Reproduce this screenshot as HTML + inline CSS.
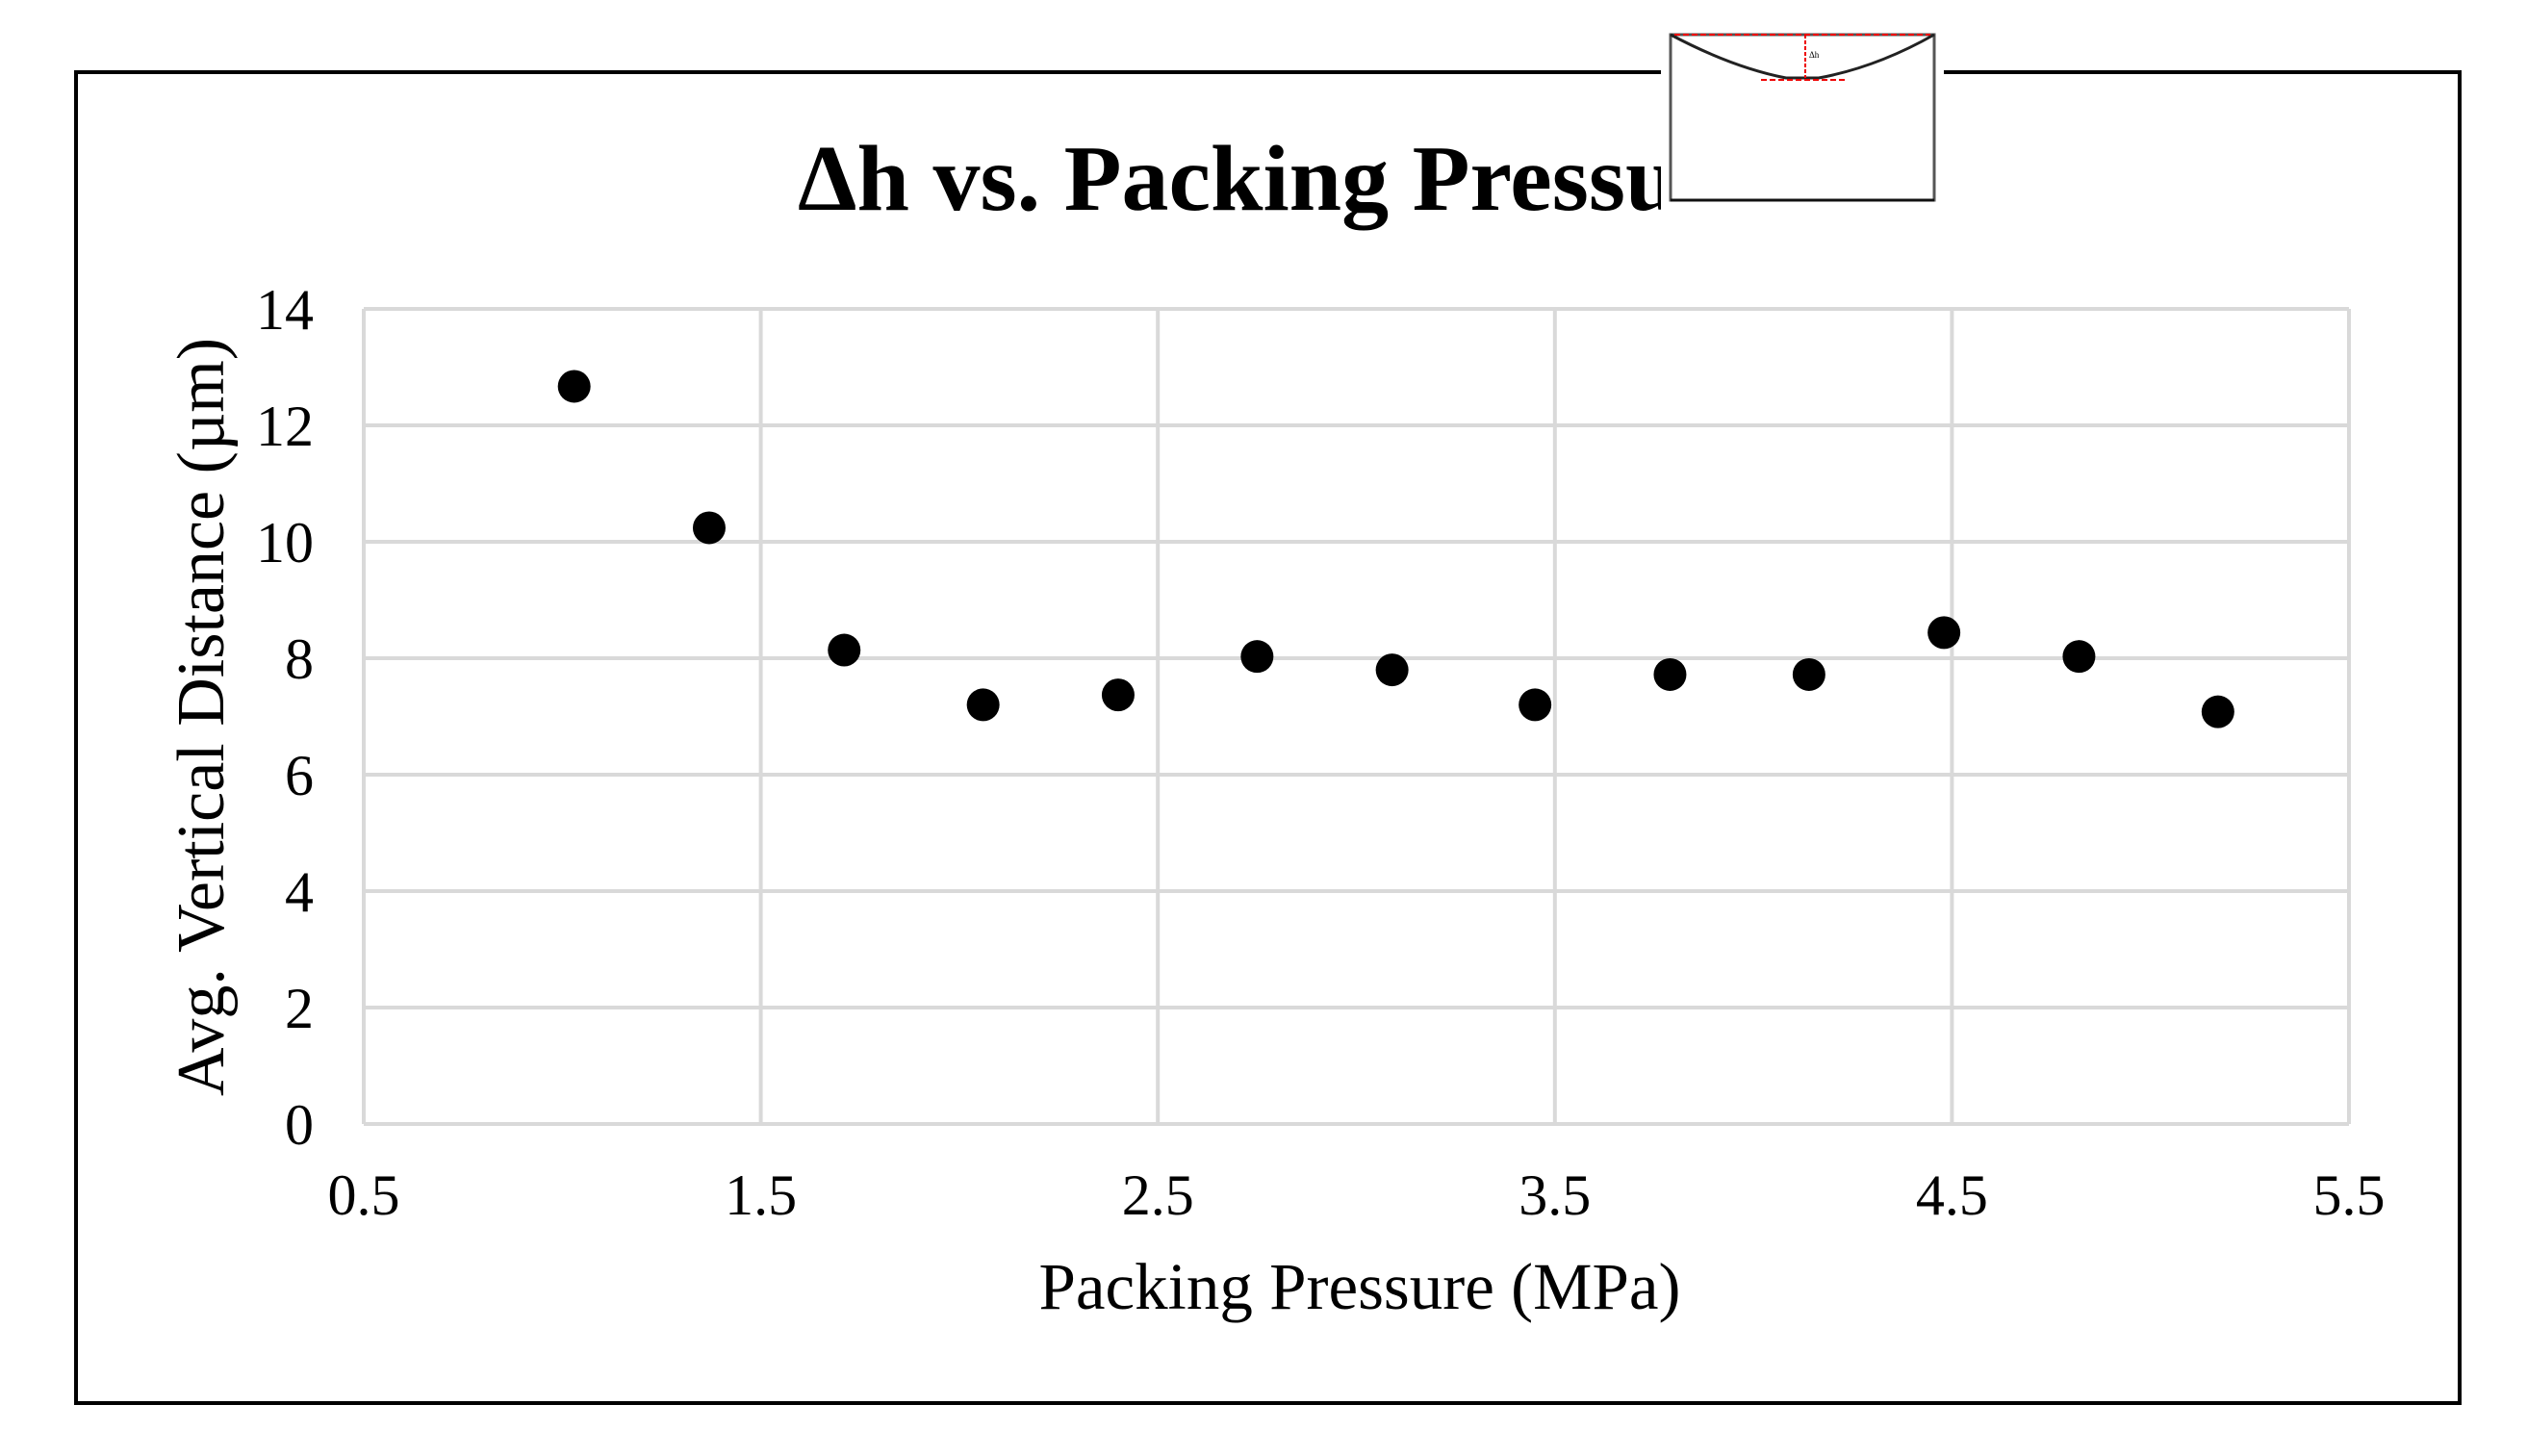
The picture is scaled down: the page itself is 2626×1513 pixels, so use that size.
<!DOCTYPE html>
<html><head><meta charset="utf-8"><style>
html,body{margin:0;padding:0;background:#fff;}
svg{display:block;font-family:"Liberation Serif",serif;}
</style></head><body>
<svg width="2626" height="1513" viewBox="0 0 2626 1513">
<rect x="0" y="0" width="2626" height="1513" fill="#fff"/>
<rect x="79" y="75" width="2477" height="1383" fill="none" stroke="#000" stroke-width="4"/>
<text x="829" y="218" font-size="98" font-weight="bold">Δh vs. Packing Pressure</text>
<g id="grid"></g>
<g id="ticks"></g>
<g id="points"></g>
<text x="1413" y="1360" font-size="69" text-anchor="middle">Packing Pressure (MPa)</text>
<text transform="translate(232,745) rotate(-90)" font-size="70" text-anchor="middle">Avg. Vertical Distance (µm)</text>
<g>
<rect x="1726" y="20" width="294" height="200" fill="#fff"/>
<rect x="1736" y="36" width="274" height="172" fill="#fff" stroke="#555" stroke-width="3"/>
<line x1="1736" y1="208" x2="2010" y2="208" stroke="#111" stroke-width="3"/>
<path d="M1736,36 Q1800,70 1856,81 L1890,81 Q1950,70 2010,36" fill="none" stroke="#222" stroke-width="3"/>
<line x1="1740" y1="36" x2="2006" y2="36" stroke="#e00" stroke-width="2" stroke-dasharray="6,3"/>
<line x1="1830" y1="83" x2="1920" y2="83" stroke="#e00" stroke-width="2" stroke-dasharray="6,3"/>
<line x1="1876" y1="36" x2="1876" y2="81" stroke="#e00" stroke-width="2" stroke-dasharray="4,2"/>
<text x="1880" y="60" font-size="9">Δh</text>
</g>
</svg>
<script>
const xTicks=[0.5,1.5,2.5,3.5,4.5,5.5];
const xTickLabels=["0.5","1.5","2.5","3.5","4.5","5.5"];
const yTicks=[0,2,4,6,8,10,12,14];
const yTickLabels=["0","2","4","6","8","10","12","14"];
const pressure=[1.03,1.37,1.71,2.06,2.40,2.75,3.09,3.45,3.79,4.14,4.48,4.82,5.17];
const deltaH=[12.67,10.24,8.14,7.2,7.37,8.03,7.8,7.2,7.72,7.72,8.44,8.03,7.08];
const NS="http://www.w3.org/2000/svg";
const X0=378,X1=2441,Y0=1168,Y1=321;
function xs(v){return X0+(v-0.5)/5*(X1-X0);}
function ys(v){return Y0-v/14*(Y0-Y1);}
function mk(tag,attrs,parent){const e=document.createElementNS(NS,tag);for(const k in attrs)e.setAttribute(k,attrs[k]);parent.appendChild(e);return e;}
const grid=document.getElementById('grid'),ticks=document.getElementById('ticks'),pts=document.getElementById('points');
yTicks.forEach((t,i)=>{
  const l=mk('line',{x1:X0,x2:X1,y1:ys(t),y2:ys(t),stroke:'#d9d9d9','stroke-width':4},grid);
  
  
  const tx=mk('text',{x:326,y:ys(t)+21,'font-size':60,'text-anchor':'end'},ticks);
  tx.textContent=yTickLabels[i];
  
  
});
xTicks.forEach((t,i)=>{
  const l=mk('line',{x1:xs(t),x2:xs(t),y1:Y1,y2:Y0,stroke:'#d9d9d9','stroke-width':4},grid);
  
  
  const tx=mk('text',{x:xs(t),y:1262,'font-size':60,'text-anchor':'middle'},ticks);
  tx.textContent=xTickLabels[i];
  
  
});
pressure.forEach((p,i)=>{
  const c=mk('circle',{cx:xs(p),cy:ys(deltaH[i]),r:17,fill:'#000'},pts);
  
  
});
</script>
</body></html>
